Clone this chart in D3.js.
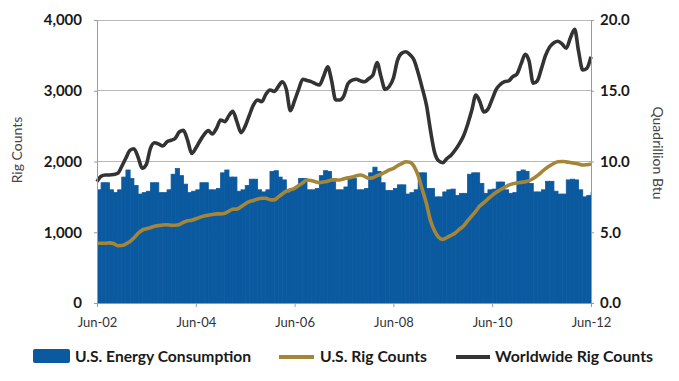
<!DOCTYPE html>
<html>
<head>
<meta charset="utf-8">
<script src="https://cdn.jsdelivr.net/npm/d3@7"></script>
<style>
  html, body { margin: 0; padding: 0; background: #fff; }
  svg { display: block; font-family: Lato, "Open Sans", sans-serif; }
</style>
</head>
<body>
<svg id="chart" width="679" height="381"></svg>
<script>
// Monthly, Jun-02 .. Jun-12 (121 months)
const startMonth = "2002-06";
const energyConsumption = [
  8.0, 8.5, 8.5, 8.0, 7.8, 8.0, 8.9,
  9.4, 8.8, 8.3, 7.7, 7.8, 7.9, 8.5, 8.5, 7.8, 7.8, 8.0, 9.1,
  9.5, 9.0, 8.4, 7.8, 7.9, 8.0, 8.5, 8.5, 8.0, 8.0, 8.1, 9.2,
  9.4, 8.9, 8.9, 7.9, 8.0, 8.3, 8.75, 8.75, 8.0, 7.85, 8.0, 9.3,
  9.35, 8.9, 8.7, 7.8, 8.0, 8.2, 8.8, 8.8, 8.0, 8.0, 8.1, 9.0,
  9.35, 9.3, 8.8, 8.0, 8.0, 8.2, 8.75, 8.8, 8.0, 8.0, 8.1, 9.2,
  9.6, 9.3, 8.5, 7.95, 7.95, 8.1, 8.35, 8.35, 7.7, 7.8, 8.0, 9.2,
  9.2, 8.1, 8.1, 7.5, 7.5, 7.85, 8.0, 8.05, 7.6, 7.75, 7.75, 9.1,
  9.2, 9.2, 8.45, 7.75, 8.0, 8.05, 8.55, 8.55, 8.0, 7.75, 7.8, 9.3,
  9.4, 9.3, 8.45, 7.85, 7.85, 8.0, 8.6, 8.6, 7.9, 7.7, 7.7, 8.7,
  8.75, 8.7, 8.0, 7.5, 7.6, 7.8
];
const usRigCounts = [
  844, 844, 844, 850, 840, 810, 812,
  835, 870, 920, 985, 1030, 1050, 1065, 1085, 1095, 1102, 1105, 1100,
  1100, 1110, 1140, 1163, 1170, 1190, 1210, 1230, 1240, 1250, 1260, 1260,
  1268, 1300, 1324, 1330, 1360, 1400, 1432, 1450, 1470, 1480, 1480, 1460,
  1457, 1500, 1540, 1580, 1600, 1621, 1660, 1700, 1739, 1730, 1715, 1701,
  1710, 1720, 1739, 1740, 1739, 1755, 1770, 1780, 1800, 1809, 1790, 1763,
  1770, 1800, 1820, 1850, 1880, 1904, 1940, 1970, 1997, 1990, 1930, 1800,
  1600, 1400, 1173, 1020, 930, 900, 925, 955, 990, 1040, 1090, 1160,
  1230, 1300, 1370, 1420, 1470, 1520, 1565, 1600, 1635, 1665, 1685, 1695,
  1705, 1715, 1730, 1760, 1800, 1850, 1900, 1940, 1975, 1997, 2000, 1995,
  1985, 1975, 1965, 1950, 1955, 1964
];
const worldwideRigCounts = [
  1715, 1790, 1809, 1809, 1815, 1833, 1930,
  2050, 2160, 2180, 2060, 1904, 1960, 2186, 2266, 2245, 2219, 2280, 2300,
  2330, 2420, 2440, 2300, 2115, 2190, 2290, 2380, 2436, 2389, 2470, 2587,
  2563, 2650, 2710, 2560, 2408, 2500, 2650, 2800, 2869, 2845, 2950, 3011,
  2990, 3060, 3128, 3020, 2718, 2860, 3020, 3162, 3145, 3128, 3100, 3081,
  3200, 3340, 3150, 2870, 2870, 2930, 3100, 3150, 3162, 3140, 3128, 3170,
  3220, 3400, 3200, 3020, 3060, 3180, 3430, 3530, 3552, 3510, 3430, 3250,
  3030, 2790, 2450, 2130, 2010, 1983, 2040, 2090, 2163, 2250, 2360, 2520,
  2720, 2940, 2850, 2700, 2740, 2880, 3020, 3090, 3128, 3140, 3200, 3235,
  3380, 3515, 3420, 3105, 3140, 3317, 3500, 3620, 3680, 3700, 3660, 3600,
  3750, 3870, 3560, 3293, 3317, 3481
];
const leftTicks = [0, 1000, 2000, 3000, 4000];
const rightTicks = [0, 5, 10, 15, 20];
const xTickLabels = ["Jun-02", "Jun-04", "Jun-06", "Jun-08", "Jun-10", "Jun-12"];
const legendLabels = ["U.S. Energy Consumption", "U.S. Rig Counts", "Worldwide Rig Counts"];

const colors = { bars: "#0b5aa0", us: "#a58638", world: "#333333", grid: "#b8b8b8", axis: "#9a9a9a" };

const parseMonth = d3.timeParse("%Y-%m");
const start = parseMonth(startMonth);
const months = energyConsumption.map((_, i) => d3.timeMonth.offset(start, i));
const end = months[months.length - 1];

const margin = { left: 97, right: 591, top: 20, bottom: 303 };
const svg = d3.select("#chart");

const x = d3.scaleTime().domain([start, end]).range([margin.left, margin.right]);
const yL = d3.scaleLinear().domain([0, 4000]).range([margin.bottom, margin.top]);
const yR = d3.scaleLinear().domain([0, 20]).range([margin.bottom, margin.top]);

svg.append("defs").append("clipPath").attr("id", "plotclip")
  .append("rect").attr("x", margin.left).attr("y", 0)
  .attr("width", margin.right - margin.left).attr("height", margin.bottom);

// gridlines
svg.append("g").selectAll("line").data(leftTicks.filter(d => d > 0)).join("line")
  .attr("x1", margin.left).attr("x2", margin.right)
  .attr("y1", d => yL(d)).attr("y2", d => yL(d))
  .attr("stroke", colors.grid).attr("stroke-width", 1).attr("shape-rendering", "crispEdges");

// bars
svg.append("g").attr("clip-path", "url(#plotclip)")
  .selectAll("rect").data(months).join("rect")
  .attr("x", d => x(d))
  .attr("width", d => x(d3.timeMonth.offset(d, 1)) - x(d))
  .attr("y", (d, i) => yR(energyConsumption[i]))
  .attr("height", (d, i) => yR(0) - yR(energyConsumption[i]))
  .attr("fill", colors.bars)
  .attr("stroke", colors.bars).attr("stroke-width", 0.8);

const line = d3.line().x(d => x(d[0])).y(d => yL(d[1])).curve(d3.curveMonotoneX);

svg.append("path").datum(months.map((m, i) => [m, usRigCounts[i]]))
  .attr("d", line).attr("fill", "none").attr("stroke", colors.us)
  .attr("stroke-width", 3.6).attr("stroke-linejoin", "round");

svg.append("path").datum(months.map((m, i) => [m, worldwideRigCounts[i]]))
  .attr("d", line).attr("fill", "none").attr("stroke", colors.world)
  .attr("stroke-width", 3.6).attr("stroke-linejoin", "round");

// axes
const fmtL = d3.format(",");
const leftAxis = svg.append("g").attr("transform", `translate(${margin.left},0)`)
  .call(d3.axisLeft(yL).tickValues(leftTicks).tickFormat(fmtL).tickSize(3).tickPadding(12));
const rightAxis = svg.append("g").attr("transform", `translate(${margin.right},0)`)
  .call(d3.axisRight(yR).tickValues(rightTicks).tickFormat(d3.format(".1f")).tickSize(3).tickPadding(6));
const xTickDates = xTickLabels.map(s => d3.timeParse("%b-%y")(s));
const bottomAxis = svg.append("g").attr("transform", `translate(0,${margin.bottom})`)
  .call(d3.axisBottom(x).tickValues(xTickDates).tickFormat((d, i) => xTickLabels[i]).tickSize(4).tickPadding(11));

[leftAxis, rightAxis, bottomAxis].forEach(g => {
  g.select(".domain").attr("stroke", colors.axis);
  g.selectAll(".tick line").attr("stroke", colors.axis);
});
leftAxis.selectAll("text").attr("font-size", 15).attr("font-weight", "bold").attr("fill", "#1a1a1a").attr("font-family", "Lato");
rightAxis.selectAll("text").attr("font-size", 15).attr("font-weight", "bold").attr("fill", "#1a1a1a").attr("font-family", "Lato");
bottomAxis.selectAll("text").attr("font-size", 13).attr("fill", "#333").attr("font-family", "Lato");

// axis titles
svg.append("text").attr("transform", "translate(22,150) rotate(-90)")
  .attr("text-anchor", "middle").attr("font-size", 14).attr("fill", "#444").text("Rig Counts");
svg.append("text").attr("transform", "translate(653,153) rotate(90)")
  .attr("text-anchor", "middle").attr("font-size", 14).attr("fill", "#444").text("Quadrillion Btu");

// legend
const lg = svg.append("g").attr("font-weight", "bold").attr("font-size", 16).attr("fill", "#1a1a1a");
lg.append("rect").attr("x", 33).attr("y", 349).attr("width", 37).attr("height", 14).attr("rx", 2).attr("fill", colors.bars);
lg.append("text").attr("x", 75).attr("y", 362).attr("textLength", 176).attr("lengthAdjust", "spacingAndGlyphs").text(legendLabels[0]);
lg.append("line").attr("x1", 279).attr("x2", 314).attr("y1", 357).attr("y2", 357).attr("stroke", colors.us).attr("stroke-width", 4);
lg.append("text").attr("x", 320).attr("y", 362).attr("textLength", 107).attr("lengthAdjust", "spacingAndGlyphs").text(legendLabels[1]);
lg.append("line").attr("x1", 456).attr("x2", 490).attr("y1", 357).attr("y2", 357).attr("stroke", colors.world).attr("stroke-width", 4);
lg.append("text").attr("x", 495).attr("y", 362).attr("textLength", 158).attr("lengthAdjust", "spacingAndGlyphs").text(legendLabels[2]);
</script>
</body>
</html>
